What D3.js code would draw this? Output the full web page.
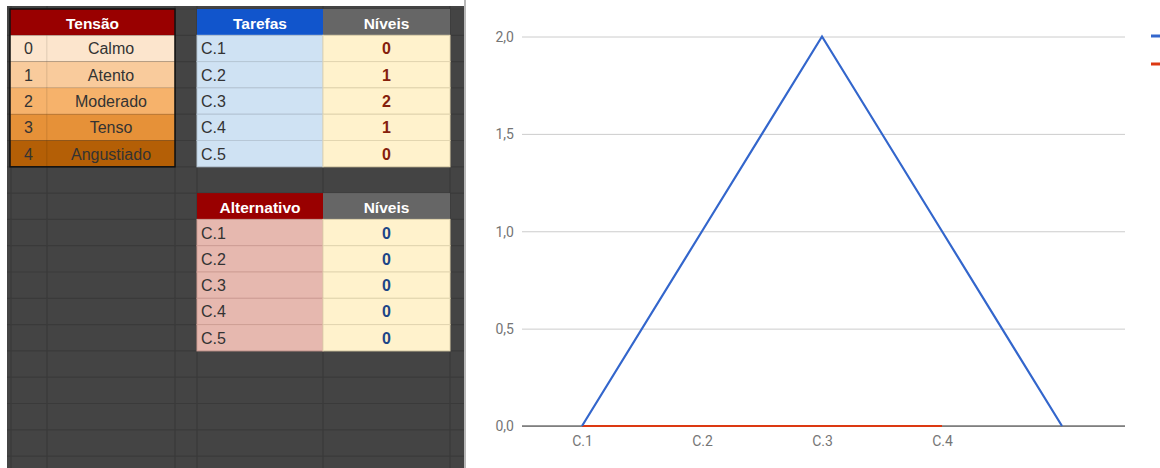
<!DOCTYPE html>
<html><head><meta charset="utf-8">
<script src="https://cdn.jsdelivr.net/npm/d3@7"></script>
<style>
html,body{margin:0;padding:0;background:#fff;}
svg{display:block;}
</style></head>
<body>
<svg id="c" width="1160" height="468"></svg>
<script>
// ---- data ----
const tensaoLevels = [0, 1, 2, 3, 4];
const tensaoLabels = ["Calmo", "Atento", "Moderado", "Tenso", "Angustiado"];
const tarefas = ["C.1", "C.2", "C.3", "C.4", "C.5"];
const tarefasNiveis = [0, 1, 2, 1, 0];
const alternativo = ["C.1", "C.2", "C.3", "C.4", "C.5"];
const alternativoNiveis = [0, 0, 0, 0, 0];
const chartCategories = ["C.1", "C.2", "C.3", "C.4", "C.5"];
const blueSeries = [0, 1, 2, 1, 0];
const redSeries = [0, 0, 0, 0];
const xTickLabels = ["C.1", "C.2", "C.3", "C.4"];
const yTicks = [0, 0.5, 1, 1.5, 2];

const svg = d3.select("#c");
const sheetFont = "'Liberation Sans', Arial, sans-serif";

// ---- spreadsheet grid ----
const rowH = 26.3, row0 = 9;
const colX = [11, 47, 175, 197, 323, 450];
const rowY = i => row0 + i * rowH;
svg.append("rect").attr("x", 7).attr("y", 6).attr("width", 457).attr("height", 462).attr("fill", "#444444");
const g = svg.append("g");
colX.forEach(x => g.append("line").attr("x1", x).attr("x2", x).attr("y1", 6).attr("y2", 468)
  .attr("stroke", "#3a3a3a").attr("stroke-width", 1.2));
d3.range(0, 18).forEach(i => g.append("line").attr("x1", 7).attr("x2", 464).attr("y1", rowY(i)).attr("y2", rowY(i))
  .attr("stroke", "#3a3a3a").attr("stroke-width", 1.2));
svg.append("rect").attr("x", 464).attr("y", 0).attr("width", 2).attr("height", 468).attr("fill", "#b8b8b8");

function header(x, w, y, text, fill) {
  svg.append("rect").attr("x", x).attr("y", y).attr("width", w).attr("height", rowH).attr("fill", fill);
  svg.append("text").attr("x", x + w / 2).attr("y", y + rowH / 2 + 6.5).attr("text-anchor", "middle")
    .attr("font-family", sheetFont).attr("font-size", 15.5).attr("font-weight", "bold").attr("fill", "#fff").text(text);
}
function cell(x, w, y, fill, text, anchor, color, bold, line) {
  svg.append("rect").attr("x", x).attr("y", y).attr("width", w).attr("height", rowH).attr("fill", fill)
    .attr("stroke", line).attr("stroke-width", 1);
  svg.append("text").attr("x", anchor === "middle" ? x + w / 2 : x + 4).attr("y", y + rowH / 2 + 6)
    .attr("text-anchor", anchor).attr("font-family", sheetFont).attr("font-size", 16)
    .attr("font-weight", bold ? "bold" : "normal").attr("fill", color).text(text);
}

// Tensão table
const tensaoFills = ["#fce5cd", "#f9cb9c", "#f6b26b", "#e69138", "#b45f06"];
header(colX[0] - 1, colX[2] - colX[0] + 1, rowY(0), "Tensão", "#990000");
tensaoLevels.forEach((lv, i) => {
  const y = rowY(i + 1);
  cell(colX[0] - 1, colX[1] - colX[0] + 1, y, tensaoFills[i], lv, "middle", "#333", false, "rgba(0,0,0,0.08)");
  cell(colX[1], colX[2] - colX[1], y, tensaoFills[i], tensaoLabels[i], "middle", "#333", false, "rgba(0,0,0,0.08)");
});
svg.append("rect").attr("x", colX[0] - 1).attr("y", rowY(0)).attr("width", colX[2] - colX[0] + 1).attr("height", rowH * 6)
  .attr("fill", "none").attr("stroke", "#111").attr("stroke-width", 1.5);

// Tarefas table
header(colX[3], colX[4] - colX[3], rowY(0), "Tarefas", "#1155cc");
header(colX[4], colX[5] - colX[4], rowY(0), "Níveis", "#666666");
tarefas.forEach((t, i) => {
  const y = rowY(i + 1);
  cell(colX[3], colX[4] - colX[3], y, "#cfe2f3", t, "start", "#333", false, "#b7c7d6");
  cell(colX[4], colX[5] - colX[4], y, "#fff2cc", tarefasNiveis[i], "middle", "#85200c", true, "#e3d6b0");
});

// Alternativo table
header(colX[3], colX[4] - colX[3], rowY(7), "Alternativo", "#990000");
header(colX[4], colX[5] - colX[4], rowY(7), "Níveis", "#666666");
alternativo.forEach((t, i) => {
  const y = rowY(i + 8);
  cell(colX[3], colX[4] - colX[3], y, "#e6b8af", t, "start", "#333", false, "#cf9f96");
  cell(colX[4], colX[5] - colX[4], y, "#fff2cc", alternativoNiveis[i], "middle", "#1c4587", true, "#e3d6b0");
});

// ---- chart ----
const chartFont = "Roboto, 'Noto Sans', sans-serif";
const x = d3.scalePoint().domain(chartCategories).range([522, 1122]).padding(0.5);
const y = d3.scaleLinear().domain([0, 2]).range([426, 36.5]);
const ch = svg.append("g");

const yAxis = d3.axisLeft(y).tickValues(yTicks).tickSize(-603).tickPadding(8)
  .tickFormat(d => d3.format(".1f")(d).replace(".", ","));
const ya = ch.append("g").attr("transform", "translate(522,0)").call(yAxis);
ya.select(".domain").remove();
ya.selectAll(".tick line").attr("stroke", "#cccccc");
ya.selectAll(".tick text").attr("fill", "#757575").attr("font-family", chartFont).attr("font-size", 14).attr("dy", "0.35em");

ch.append("line").attr("x1", 522).attr("x2", 1125).attr("y1", y(0)).attr("y2", y(0)).attr("stroke", "#333").attr("stroke-width", 1);

const xAxis = d3.axisBottom(x).tickValues(xTickLabels).tickSize(0).tickPadding(10);
const xa = ch.append("g").attr("transform", `translate(0,${y(0)})`).call(xAxis);
xa.select(".domain").remove();
xa.selectAll(".tick text").attr("fill", "#757575").attr("font-family", chartFont).attr("font-size", 14);

const line = d3.line().x((d, i) => x(chartCategories[i])).y(d => y(d));
ch.append("path").datum(redSeries).attr("d", line).attr("fill", "none").attr("stroke", "#dc3912").attr("stroke-width", 2.2);
ch.append("path").datum(blueSeries).attr("d", line).attr("fill", "none").attr("stroke", "#3366cc").attr("stroke-width", 2.2);

// legend swatches (text cut off by frame)
const legend = [{c: "#3366cc", y: 36}, {c: "#dc3912", y: 64}];
legend.forEach(l => ch.append("line").attr("x1", 1151).attr("x2", 1165).attr("y1", l.y).attr("y2", l.y)
  .attr("stroke", l.c).attr("stroke-width", 3));
</script>
</body></html>
